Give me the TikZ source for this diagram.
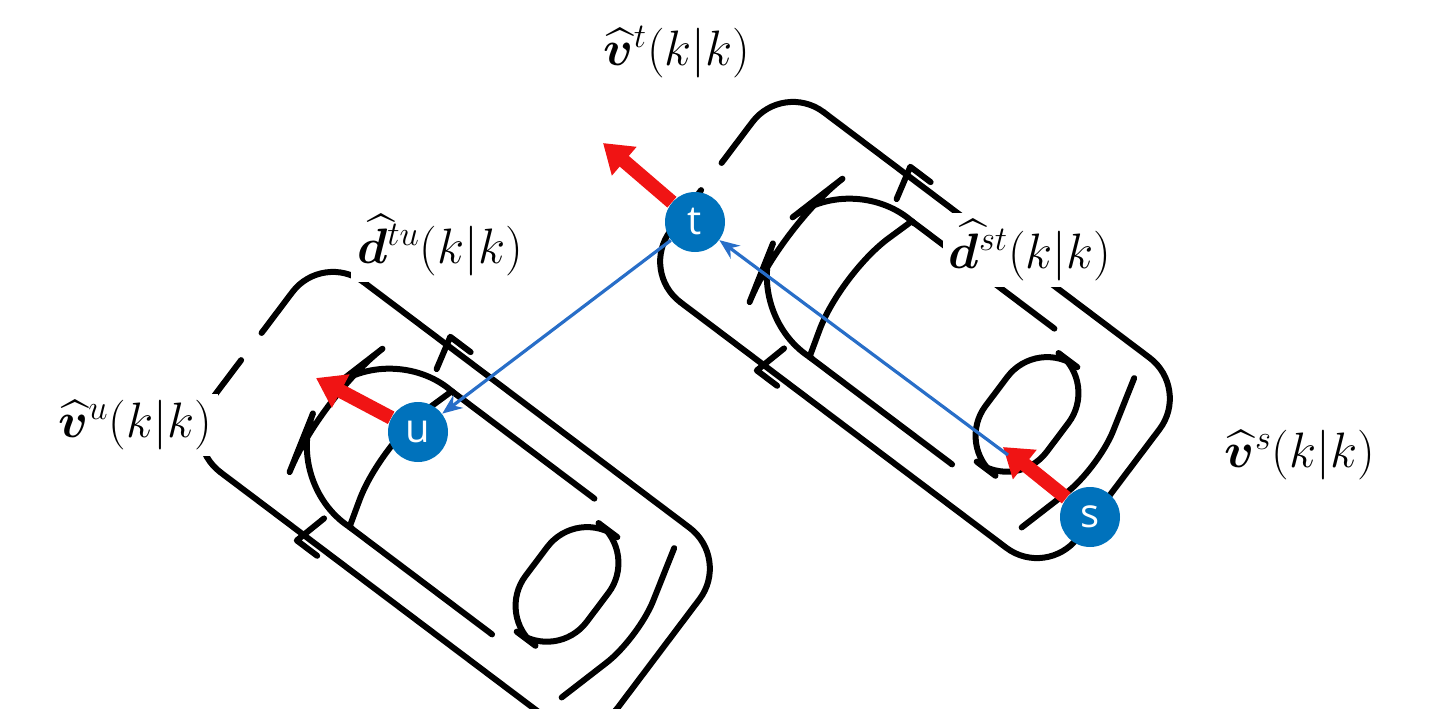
\documentclass[tikz,border=0pt]{standalone}
\usepackage{amsmath,bm}
\usepackage{fontspec}
\newfontfamily\sans{Open Sans}
\definecolor{nodeblue}{RGB}{0,114,188}
\definecolor{arrblue}{RGB}{40,110,200}
\definecolor{arrred}{RGB}{240,20,20}
\tikzset{
 car/.style={line width=3pt, black, line cap=round, line join=round},
 agent/.style={circle, fill=nodeblue, minimum size=30pt, inner sep=0pt, text=white, font=\sans\fontsize{20}{20}\selectfont},
 vel/.style={arrred, line width=7pt, -{Triangle[length=14pt,width=18pt]}},
 rel/.style={arrblue, line width=1.6pt, -{Stealth[length=10pt,width=8pt]}},
 lab/.style={font=\fontsize{24}{28}\selectfont, inner sep=3pt, fill=white}
}
\usetikzlibrary{arrows.meta}
\newcommand\drawcarbody{%
  \draw[car] (-240,-140) -- (240,-140) arc[start angle=-90,end angle=0,radius=60] -- (300,80) arc[start angle=0,end angle=90,radius=60] -- (-240,140);
  \draw[car] (-240,-140) arc[start angle=-90,end angle=-180,radius=60] -- (-300,-20);
  \draw[car] (-300,20) -- (-300,80) arc[start angle=180,end angle=90,radius=60];
  \draw[car, rounded corners=40] (-80,-100) -- (-170,-110) -- (-200,0) -- (-170,110) -- (-80,100);
  \draw[car] (-80,-100) -- (130,-100);
  \draw[car] (-80,100) -- (130,100);
  \draw[car, rounded corners=30] (-80,-100) -- (-110,0) -- (-80,100);
  \draw[car, rounded corners=25] (120,-80) rectangle (210,80);
  \draw[car, rounded corners=20] (240,-110) -- (270,0) -- (240,110);
  \draw[car] (-110,-110) -- (-120,-150) -- (-90,-150);
  \draw[car] (-110,110) -- (-120,150) -- (-90,150);
}
\begin{document}
\begin{tikzpicture}[x=0.5pt,y=-0.5pt]
\useasboundingbox (0,0) rectangle (1432,708);
\begin{scope}
\clip (0,0) rectangle (1432,708);
\begin{scope}[shift={(915,330)},rotate=-37,scale=0.85]\drawcarbody\end{scope}
\begin{scope}[shift={(455,500)},rotate=-37,scale=0.85]\drawcarbody\end{scope}
\end{scope}
\node[lab] (lt) at (677,52) {$\widehat{\bm{v}}^{t}(k|k)$};
\node[lab] (ltu) at (440,245) {$\widehat{\bm{d}}^{tu}(k|k)$};
\node[lab] (lst) at (1030,250) {$\widehat{\bm{d}}^{st}(k|k)$};
\node[lab] (lu) at (135,425) {$\widehat{\bm{v}}^{u}(k|k)$};
\node[lab] (ls) at (1300,455) {$\widehat{\bm{v}}^{s}(k|k)$};
\node[agent] (t) at (695,222) {t};
\node[agent] (u) at (418,432) {u};
\node[agent] (s) at (1090,517) {s};
\coordinate (vt) at (603,143);
\coordinate (vu) at (316,378);
\coordinate (vs) at (1003,447);
\draw[vel] (t) -- (vt);
\draw[vel] (u) -- (vu);
\draw[vel] (s) -- (vs);
\draw[rel] (1008,455) -- (t);
\draw[rel] (t) -- (u);
\end{tikzpicture}
\end{document}
